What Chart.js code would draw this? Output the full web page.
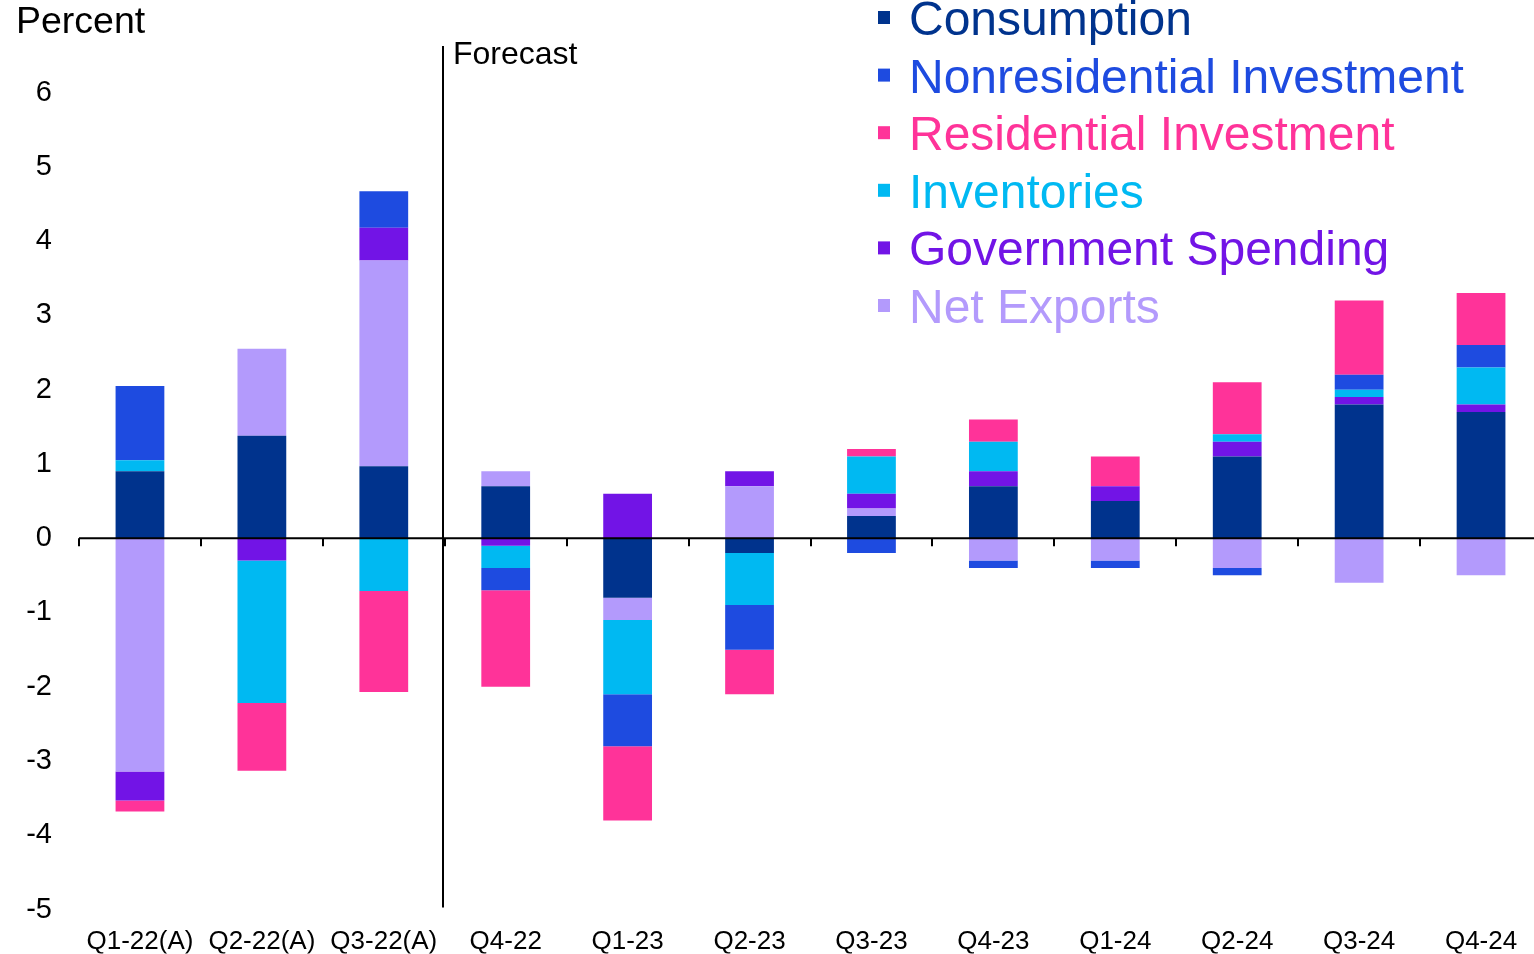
<!DOCTYPE html>
<html lang="en">
<head>
  <meta charset="UTF-8">
  <title>Contributions to GDP Growth</title>
  <script src="https://cdn.jsdelivr.net/npm/chart.js"></script>
  <style>
    html, body { margin: 0; padding: 0; background: #ffffff; overflow: hidden; }
    #wrap { width: 1545px; height: 954px; }
  </style>
</head>
<body>
  <div id="wrap"><canvas id="gdpChart" width="1545" height="954"></canvas></div>

  <script>
    // quarters and component contributions (percentage points)
    const quarters = ['Q1-22(A)', 'Q2-22(A)', 'Q3-22(A)', 'Q4-22', 'Q1-23', 'Q2-23',
                      'Q3-23', 'Q4-23', 'Q1-24', 'Q2-24', 'Q3-24', 'Q4-24'];
    const consumption = [0.9, 1.38, 0.97, 0.7, -0.8, -0.2, 0.3, 0.7, 0.5, 1.1, 1.8, 1.7];
    const netExports  = [-3.14, 1.17, 2.77, 0.2, -0.3, 0.7, 0.1, -0.3, -0.3, -0.4, -0.6, -0.5];
    const government  = [-0.39, -0.3, 0.44, -0.1, 0.6, 0.2, 0.2, 0.2, 0.2, 0.2, 0.1, 0.1];
    const inventories = [0.15, -1.92, -0.71, -0.3, -1.0, -0.7, 0.5, 0.4, 0, 0.1, 0.1, 0.5];
    const nonresInv   = [1.0, 0, 0.49, -0.3, -0.7, -0.6, -0.2, -0.1, -0.1, -0.1, 0.2, 0.3];
    const residInv    = [-0.15, -0.91, -1.36, -1.3, -1.0, -0.6, 0.1, 0.3, 0.4, 0.7, 1.0, 0.7];
    const forecastAfter = 2; // last actual quarter index
    const yTicks = [-5, -4, -3, -2, -1, 0, 1, 2, 3, 4, 5, 6];

    const colors = {
      'Consumption': '#00338D',
      'Nonresidential Investment': '#1E4BE0',
      'Residential Investment': '#FF3399',
      'Inventories': '#00B9F2',
      'Government Spending': '#7214E6',
      'Net Exports': '#B39AFC'
    };
    const legendOrder = ['Consumption', 'Nonresidential Investment', 'Residential Investment',
                         'Inventories', 'Government Spending', 'Net Exports'];

    const FONT = "'Liberation Sans', Arial, sans-serif";
    Chart.defaults.font.family = FONT;
    Chart.defaults.color = '#000';

    // zero line, quarter ticks, forecast divider, labels and legend
    const decorations = {
      id: 'decorations',
      afterDatasetsDraw(chart) {
        const { ctx, chartArea, scales: { x, y } } = chart;
        const y0 = y.getPixelForValue(0);
        ctx.save();
        ctx.strokeStyle = '#000';
        ctx.lineWidth = 2;
        ctx.beginPath();
        ctx.moveTo(chartArea.left, y0);
        ctx.lineTo(chartArea.right, y0);
        for (let i = 0; i <= quarters.length; i++) {
          const px = Math.round(x.getPixelForValue(i - 0.5));
          ctx.moveTo(px, y0);
          ctx.lineTo(px, y0 + 8);
        }
        const fx = Math.round((x.getPixelForValue(forecastAfter) + x.getPixelForValue(forecastAfter + 1)) / 2) - 2;
        ctx.moveTo(fx, chartArea.top - 2);
        ctx.lineTo(fx, chartArea.bottom - 2);
        ctx.stroke();

        ctx.fillStyle = '#000';
        ctx.textBaseline = 'alphabetic';
        ctx.textAlign = 'left';
        ctx.font = '32px ' + FONT;
        ctx.fillText('Forecast', fx + 10, 64);
        ctx.font = '37.5px ' + FONT;
        ctx.fillText('Percent', 16, 33);

        // legend
        ctx.font = '48px ' + FONT;
        legendOrder.forEach((name, i) => {
          const base = 35 + i * 57.6;
          ctx.fillStyle = colors[name];
          ctx.fillRect(878, base - 24, 12, 13);
          ctx.fillText(name, 909, base);
        });
        ctx.restore();
      }
    };

    const series = [
      ['Consumption', consumption],
      ['Net Exports', netExports],
      ['Government Spending', government],
      ['Inventories', inventories],
      ['Nonresidential Investment', nonresInv],
      ['Residential Investment', residInv]
    ];

    new Chart(document.getElementById('gdpChart'), {
      type: 'bar',
      data: {
        labels: quarters,
        datasets: series.map(([name, values]) => ({
          label: name,
          data: values,
          backgroundColor: colors[name],
          borderWidth: 0,
          categoryPercentage: 0.4,
          barPercentage: 1
        }))
      },
      options: {
        responsive: false,
        animation: false,
        layout: { padding: { top: 48, right: 3, left: 0, bottom: 0 } },
        plugins: {
          legend: { display: false },
          tooltip: { enabled: false }
        },
        scales: {
          x: {
            stacked: true,
            grid: { display: false },
            border: { display: false },
            ticks: { font: { size: 26 }, padding: 9, autoSkip: false, maxRotation: 0 },
            afterFit: s => { s.height = 44; }
          },
          y: {
            stacked: true,
            min: -5,
            max: 6.6,
            grid: { display: false, drawTicks: false },
            border: { display: false },
            ticks: { font: { size: 29 }, padding: 27 },
            afterBuildTicks: s => { s.ticks = yTicks.map(v => ({ value: v })); },
            afterFit: s => { s.width = 79; }
          }
        }
      },
      plugins: [decorations]
    });
  </script>
</body>
</html>
